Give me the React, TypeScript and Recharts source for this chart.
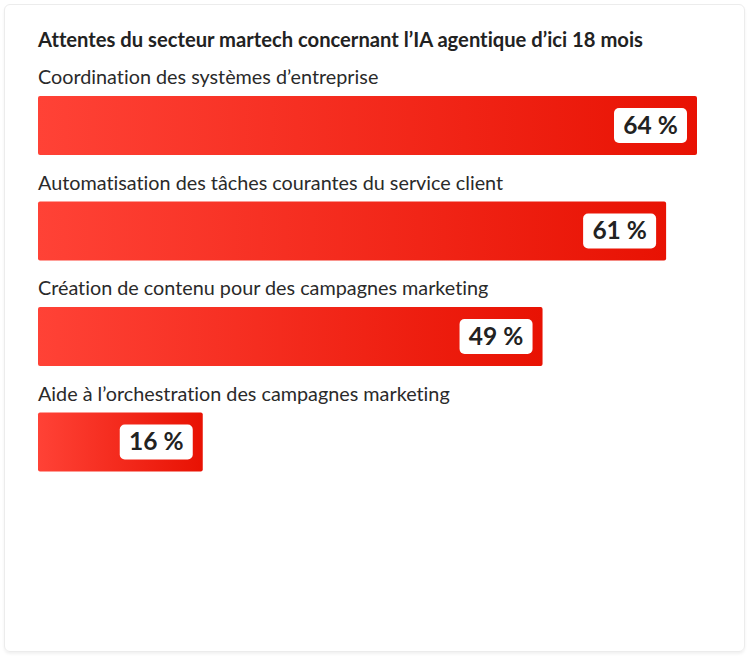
import React from "react";
import { BarChart, Bar, XAxis, YAxis, LabelList } from "recharts";

const TITLE = "Attentes du secteur martech concernant l\u2019IA agentique d\u2019ici 18 mois";

const categories = [
  "Coordination des systèmes d\u2019entreprise",
  "Automatisation des tâches courantes du service client",
  "Création de contenu pour des campagnes marketing",
  "Aide à l\u2019orchestration des campagnes marketing",
];

const values = [64, 61, 49, 16];

const chartData = categories.map((name, i) => ({ name, value: values[i] }));

const FONT = "Lato, 'Noto Sans', sans-serif";

function CategoryLabel(props: any) {
  const { x, y, value } = props;
  return (
    <text
      x={x}
      y={y - 12}
      fill="#2a2a2a"
      fontSize={19.8}
      fontFamily={FONT}
      style={{ fontVariantLigatures: "none" }}
    >
      {value}
    </text>
  );
}

function ValueBadge(props: any) {
  const { x, y, width, value } = props;
  const label = `${value} %`;
  const boxW = 73;
  const boxH = 35;
  const right = x + width - 10;
  return (
    <g>
      <rect
        x={right - boxW}
        y={y + 12}
        width={boxW}
        height={boxH}
        rx={5}
        fill="#ffffff"
      />
      <text
        x={right - boxW / 2}
        y={y + 12 + boxH / 2 + 8}
        textAnchor="middle"
        fill="#222222"
        fontSize={24.5}
        fontWeight={700}
        fontFamily={FONT}
      >
        {label}
      </text>
    </g>
  );
}

export default function App() {
  return (
    <div
      style={{
        position: "absolute",
        left: 0,
        top: 0,
        width: 750,
        height: 660,
        background: "#ffffff",
      }}
    >
      <div
        style={{
          position: "absolute",
          left: 4,
          top: 4,
          width: 741,
          height: 648,
          border: "1px solid #ececec",
          borderRadius: 6,
          boxShadow: "0 2px 3px rgba(0,0,0,0.06)",
          boxSizing: "border-box",
        }}
      />
      <div
        style={{
          position: "absolute",
          left: 38,
          top: 27,
          fontFamily: FONT,
          fontWeight: 700,
          fontSize: 20.2,
          color: "#222222",
          whiteSpace: "nowrap",
          fontVariantLigatures: "none",
        }}
      >
        {TITLE}
      </div>
      <div style={{ position: "absolute", left: 0, top: 0 }}>
        <BarChart
          width={750}
          height={660}
          data={chartData}
          layout="vertical"
          margin={{ top: 73, right: 53, bottom: 165, left: 38 }}
          barCategoryGap={47}
        >
          <defs>
            <linearGradient id="barGrad" x1="0" y1="0" x2="1" y2="0">
              <stop offset="0%" stopColor="#ff4236" />
              <stop offset="100%" stopColor="#e81203" />
            </linearGradient>
          </defs>
          <XAxis type="number" domain={[0, 64]} hide />
          <YAxis type="category" dataKey="name" hide />
          <Bar
            dataKey="value"
            fill="url(#barGrad)"
            barSize={59}
            radius={2}
            isAnimationActive={false}
          >
            <LabelList dataKey="name" content={<CategoryLabel />} />
            <LabelList dataKey="value" content={<ValueBadge />} />
          </Bar>
        </BarChart>
      </div>
    </div>
  );
}
